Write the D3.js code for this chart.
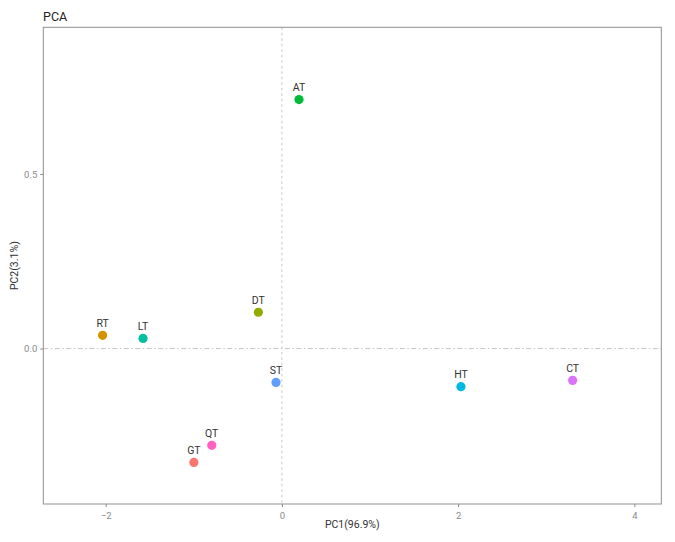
<!DOCTYPE html>
<html><head><meta charset="utf-8">
<script src="https://cdn.jsdelivr.net/npm/d3@7"></script>
<style>body{margin:0;background:#fff}</style>
</head><body>
<svg id="c" width="675" height="542"></svg>
<script>
const names = ["GT","RT","DT","AT","LT","HT","ST","CT","QT"];
const pc1 =   [-0.999,-2.035,-0.267,0.194,-1.576,2.032,-0.067,3.300,-0.796];
const pc2 =   [-0.326,0.038,0.104,0.713,0.029,-0.109,-0.097,-0.091,-0.277];
const colors = ["#F8766D","#D39200","#93AA00","#00BA38","#00C19F","#00B9E3","#619CFF","#DB72FB","#FF61C3"];
const xTicks = [-2,0,2,4];
const yTicks = [0.0,0.5];

const L=43.3,R=661.3,T=27.3,B=504;
const svg=d3.select("#c");
const font="Roboto, 'Liberation Sans', Arial, sans-serif";
const x=d3.scaleLinear().domain([-2.708,4.306]).range([L,R]);
const y=d3.scaleLinear().domain([-0.445,0.92]).range([B,T]);

// reference lines
svg.append("line").attr("x1",x(0)).attr("x2",x(0)).attr("y1",T).attr("y2",B)
  .attr("stroke","#c4c4c4").attr("stroke-width",1).attr("stroke-dasharray","2.5,3");
svg.append("line").attr("x1",L).attr("x2",R).attr("y1",y(0)).attr("y2",y(0))
  .attr("stroke","#c4c4c4").attr("stroke-width",1).attr("stroke-dasharray","5,2.5,1.5,2.5");

// axes
const xa=svg.append("g").attr("transform",`translate(0,${B})`)
  .call(d3.axisBottom(x).tickValues(xTicks).tickFormat(d3.format("d")).tickSize(3).tickSizeOuter(0));
const ya=svg.append("g").attr("transform",`translate(${L},0)`)
  .call(d3.axisLeft(y).tickValues(yTicks).tickFormat(d3.format(".1f")).tickSize(3).tickSizeOuter(0));
[xa,ya].forEach(g=>{
  g.select(".domain").remove();
  g.selectAll(".tick line").attr("stroke","#888");
  g.selectAll(".tick text").attr("fill","#8a8a8a").attr("font-size",9.5).attr("font-family",font);
});
xa.selectAll(".tick text").attr("dy","0.9em");

// panel border
svg.append("rect").attr("x",L).attr("y",T).attr("width",R-L).attr("height",B-T)
  .attr("fill","none").attr("stroke","#8f8f8f").attr("stroke-width",1);

// points
const data=names.map((n,i)=>({n,x:pc1[i],y:pc2[i],c:colors[i]}));
svg.selectAll("circle.p").data(data).enter().append("circle")
  .attr("cx",d=>x(d.x)).attr("cy",d=>y(d.y)).attr("r",4.6).attr("fill",d=>d.c);
svg.selectAll("text.l").data(data).enter().append("text")
  .attr("x",d=>x(d.x)).attr("y",d=>y(d.y)-8.5).attr("text-anchor","middle")
  .attr("font-size",10.5).attr("font-family",font).attr("fill","#333").text(d=>d.n);

// titles
svg.append("text").attr("x",43).attr("y",21).attr("font-size",12.5).attr("font-family",font)
  .attr("fill","#222").text("PCA");
svg.append("text").attr("x",(L+R)/2).attr("y",528).attr("text-anchor","middle")
  .attr("font-size",10.5).attr("font-family",font).attr("fill","#333").text("PC1(96.9%)");
svg.append("text").attr("transform",`translate(18,${(T+B)/2}) rotate(-90)`).attr("text-anchor","middle")
  .attr("font-size",10.5).attr("font-family",font).attr("fill","#333").text("PC2(3.1%)");
</script>
</body></html>
